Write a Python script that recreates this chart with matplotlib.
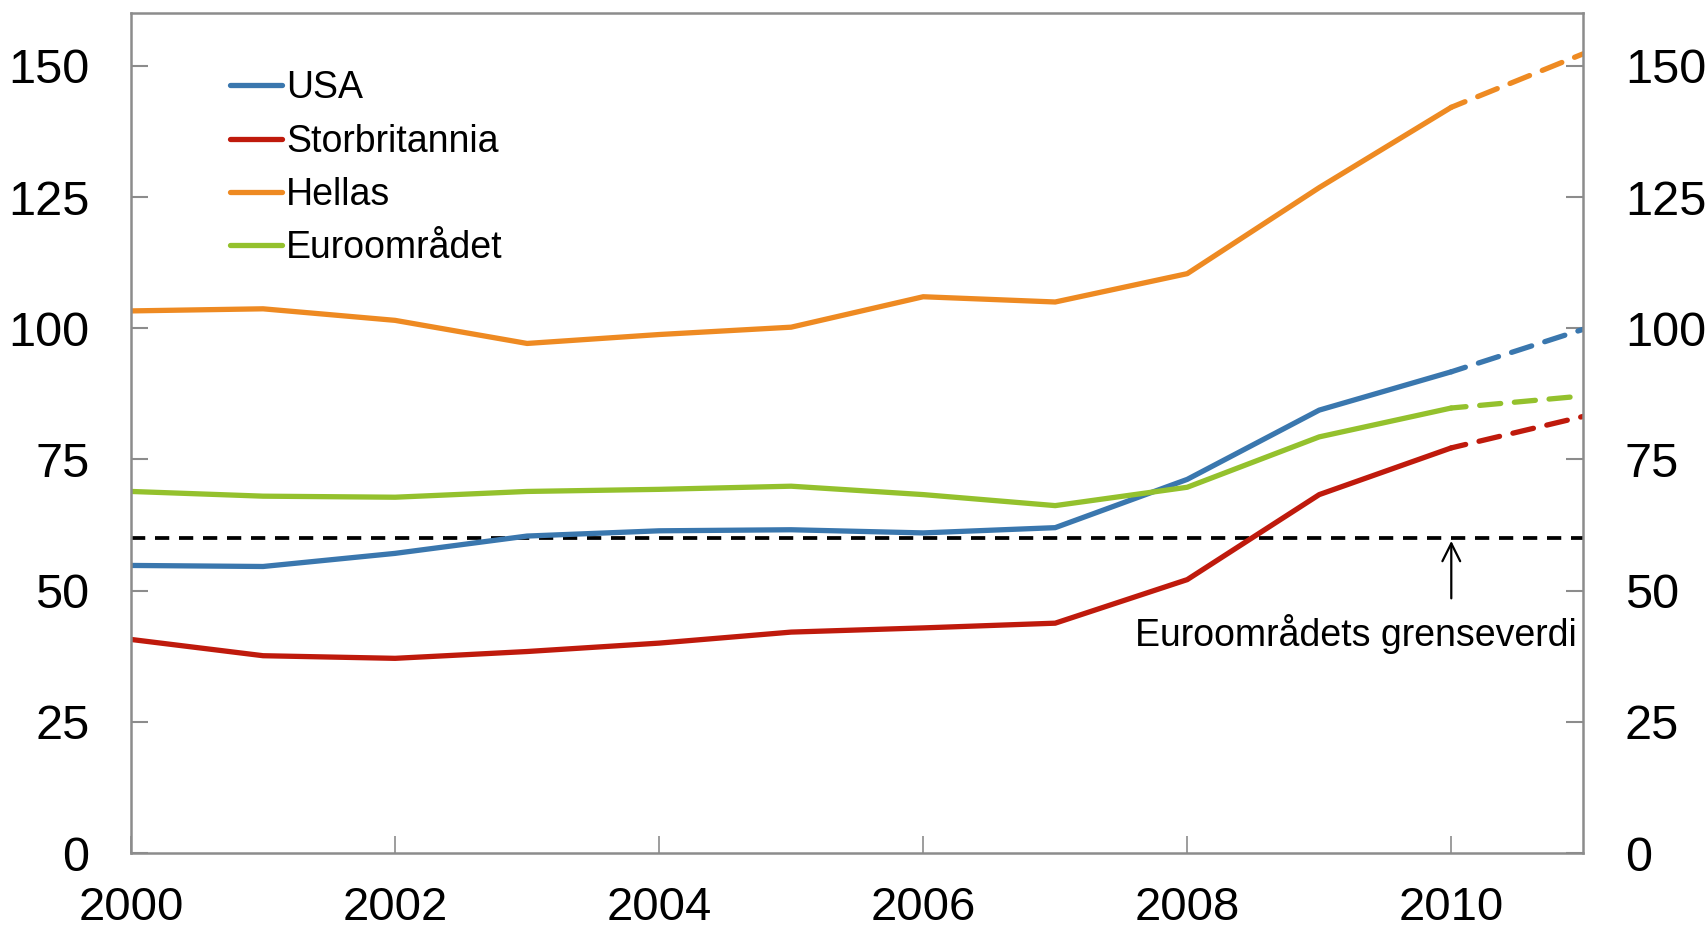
import matplotlib
matplotlib.use("Agg")
import matplotlib.pyplot as plt

plt.rcParams['font.family'] = ['Liberation Sans', 'DejaVu Sans']

# Data (gross debt, % of GDP), 2011 = forecast
years = [2000, 2001, 2002, 2003, 2004, 2005, 2006, 2007, 2008, 2009, 2010, 2011]
usa = [54.8, 54.6, 57.1, 60.4, 61.4, 61.6, 61.0, 62.0, 71.2, 84.4, 91.7, 99.8]
uk = [40.7, 37.6, 37.1, 38.4, 40.0, 42.1, 42.9, 43.8, 52.1, 68.3, 77.2, 83.2]
hellas = [103.3, 103.7, 101.5, 97.1, 98.8, 100.2, 106.0, 105.0, 110.4, 126.8, 142.1, 152.3]
euro = [68.9, 68.0, 67.8, 68.9, 69.3, 69.9, 68.3, 66.2, 69.7, 79.3, 84.8, 87.1]
names = ['USA', 'Storbritannia', 'Hellas', 'Euroområdet']
colors = ['#3A77AE', '#BF1A0C', '#EE8A22', '#94C12D']
limit = 60
n_hist = 11  # points up to 2010 drawn solid

fig = plt.figure(figsize=(17.08, 9.33), dpi=100)
ax = fig.add_axes([0.0767, 0.0857, 0.8503, 0.9])

lw = 3.8
for vals, name, col in zip([usa, uk, hellas, euro], names, colors):
    ax.plot(years[:n_hist], vals[:n_hist], color=col, lw=lw, label=name,
            solid_capstyle='round')
    ax.plot(years[n_hist - 1:], vals[n_hist - 1:], color=col, lw=lw,
            ls=(1.2, (4.0, 2.6)), dash_capstyle='round')

ax.axhline(limit, color='black', lw=2.7, ls=(0, (3.8, 2.6)), zorder=1)
ax.annotate('', xy=(2010, limit), xytext=(2010, 48),
            arrowprops=dict(arrowstyle='->', color='black', lw=1.6,
                            mutation_scale=32))
ax.text(2010.95, 41.7, 'Euroområdets grenseverdi', ha='right', va='center',
        fontsize=27)

ax.set_xlim(2000, 2011)
ax.set_ylim(0, 160)
ax.set_xticks(range(2000, 2011, 2))
ax.set_yticks(range(0, 151, 25))

for s in ax.spines.values():
    s.set_color('#8C8C8C')
    s.set_linewidth(1.8)

ax.tick_params(axis='y', which='both', direction='in', length=12, width=1.5,
               color='#8C8C8C', labelsize=35, pad=30, right=True, labelright=True)
ax.tick_params(axis='x', direction='in', length=12, width=1.2, color='#8C8C8C',
               labelsize=34, pad=24)

ax.legend(loc='upper left', bbox_to_anchor=(0.068, 0.932), frameon=False,
          fontsize=27, handlelength=1.4, handletextpad=0.1, borderpad=0,
          borderaxespad=0, labelspacing=0.46)

fig.savefig('out.png', dpi=100)
